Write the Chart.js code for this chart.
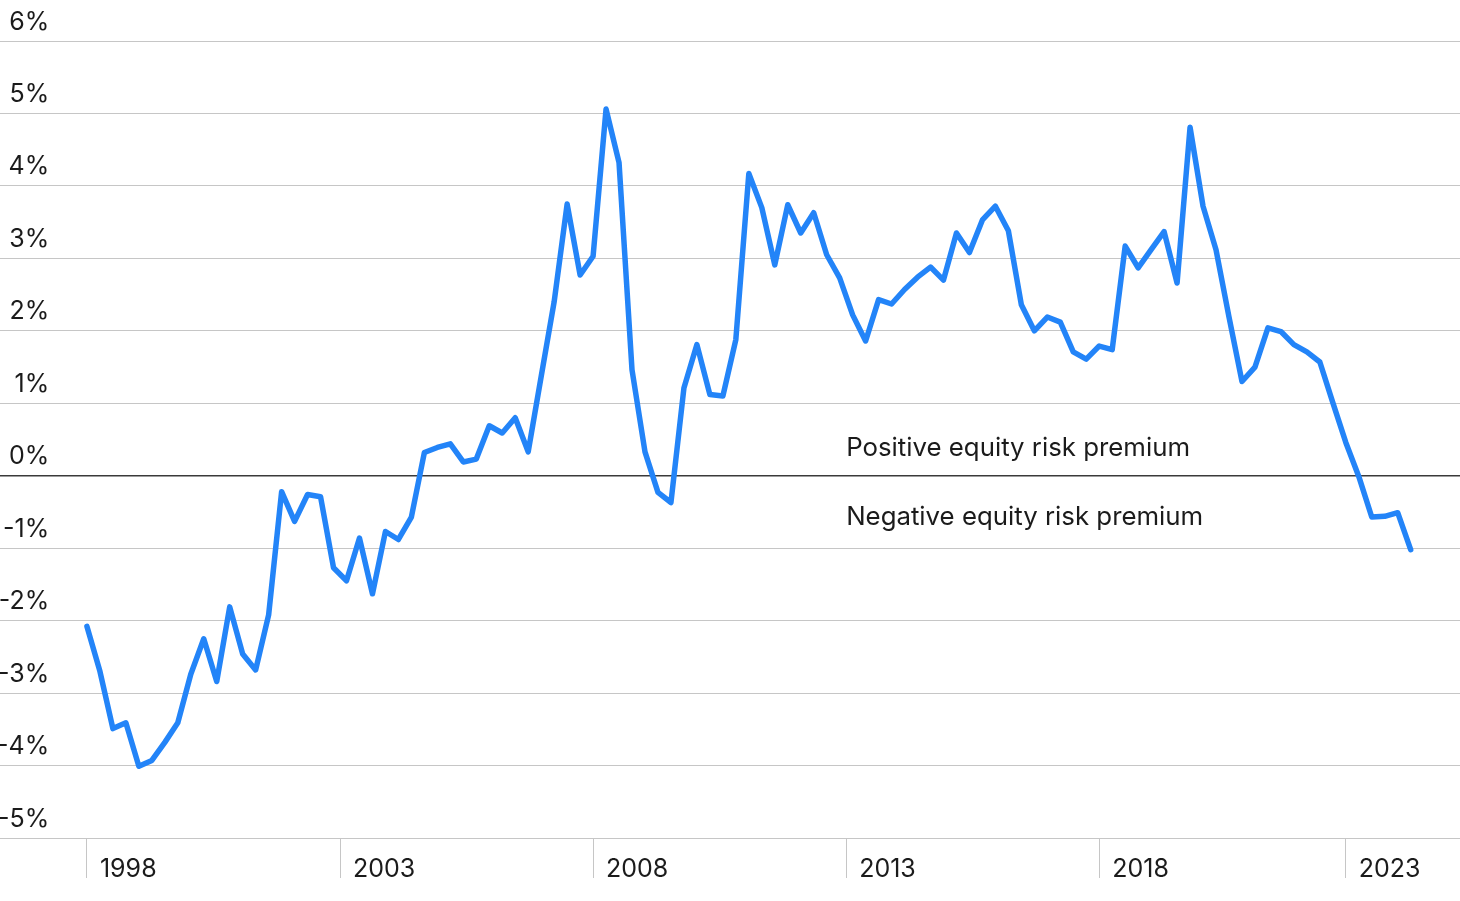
<!DOCTYPE html>
<html>
<head>
<meta charset="utf-8">
<title>Equity risk premium</title>
<script src="https://cdn.jsdelivr.net/npm/chart.js@4/dist/chart.umd.min.js"></script>
<style>
  html, body { margin: 0; padding: 0; background: #ffffff; }
  #wrap { width: 1460px; height: 901px; position: relative; }
</style>
</head>
<body>
<div id="wrap"><canvas id="erpChart"></canvas></div>
<script>
// Quarterly equity risk premium (%), 1998 Q1 .. 2023 Q3
var premium = [
  -2.08, -2.70, -3.49, -3.41, -4.01, -3.93, -3.68, -3.41, -2.74, -2.25,
  -2.84, -1.81, -2.46, -2.68, -1.92, -0.22, -0.63, -0.26, -0.29, -1.27,
  -1.45, -0.86, -1.63, -0.77, -0.88, -0.57, 0.32, 0.39, 0.44, 0.19,
  0.23, 0.69, 0.59, 0.80, 0.33, 1.37, 2.40, 3.75, 2.77, 3.03,
  5.06, 4.32, 1.46, 0.33, -0.23, -0.37, 1.21, 1.81, 1.12, 1.10,
  1.88, 4.17, 3.70, 2.91, 3.74, 3.35, 3.63, 3.05, 2.73, 2.22,
  1.86, 2.43, 2.37, 2.57, 2.74, 2.88, 2.70, 3.35, 3.08, 3.53,
  3.72, 3.38, 2.36, 2.00, 2.19, 2.12, 1.71, 1.61, 1.79, 1.74,
  3.17, 2.87, 3.12, 3.37, 2.66, 4.81, 3.72, 3.12, 2.19, 1.30,
  1.50, 2.04, 1.99, 1.81, 1.71, 1.57, 1.01, 0.46, -0.01, -0.57,
  -0.56, -0.51, -1.02
];

// year ticks on the x axis (position in quarters from 1998 Q1)
var yearLabels = ['1998', '2003', '2008', '2013', '2018', '2023'];
var yearTickAt = [0, 19.5, 39, 58.5, 78, 97];

var yTicks = [-5, -4, -3, -2, -1, 0, 1, 2, 3, 4, 5, 6];

var notes = ['Positive equity risk premium', 'Negative equity risk premium'];
var noteY = [0.38, -0.57];

var LINE = '#2384F8';
var GRID = '#c6c6c6';
var ZERO = '#3a3a3a';
var TEXT = '#1b1b1b';
var FONT = "Inter, 'Liberation Sans', sans-serif";

var noteLabels = {
  id: 'noteLabels',
  afterDatasetsDraw: function (chart) {
    var ctx = chart.ctx;
    var xs = chart.scales.x, ys = chart.scales.y;
    var x = xs.getPixelForValue(yearTickAt[3]);
    ctx.save();
    ctx.font = '400 25.8px ' + FONT;
    ctx.fillStyle = TEXT;
    ctx.textAlign = 'left';
    ctx.textBaseline = 'middle';
    notes.forEach(function (t, i) {
      ctx.fillText(t, x, ys.getPixelForValue(noteY[i]));
    });
    ctx.restore();
  }
};

new Chart(document.getElementById('erpChart'), {
  type: 'line',
  data: {
    datasets: [{
      data: premium.map(function (v, i) { return { x: i, y: v }; }),
      borderColor: LINE,
      borderWidth: 5.5,
      pointRadius: 0,
      tension: 0,
      borderJoinStyle: 'round',
      borderCapStyle: 'round'
    }]
  },
  options: {
    responsive: true,
    maintainAspectRatio: false,
    animation: false,
    layout: { padding: { top: 41, right: 0, bottom: 0, left: 0 } },
    plugins: { legend: { display: false }, tooltip: { enabled: false } },
    scales: {
      x: {
        type: 'linear',
        min: -6.7,
        max: 105.8,
        border: { display: false },
        grid: { drawOnChartArea: false, drawTicks: true, tickLength: 40, color: GRID },
        afterBuildTicks: function (axis) {
          axis.ticks = yearTickAt.map(function (v) { return { value: v }; });
        },
        afterFit: function (axis) { axis.height = 63; },
        ticks: {
          autoSkip: false,
          maxRotation: 0,
          align: 'start',
          labelOffset: 13,
          padding: -24,
          color: TEXT,
          font: { family: FONT, size: 25 },
          callback: function (v, i) { return yearLabels[i]; }
        }
      },
      y: {
        min: -5,
        max: 6,
        border: { display: false },
        afterBuildTicks: function (axis) {
          axis.ticks = yTicks.map(function (v) { return { value: v }; });
        },
        afterFit: function (axis) { axis.width = 0; },
        grid: {
          drawTicks: false,
          color: function (c) { return c.tick && c.tick.value === 0 ? ZERO : GRID; },
          lineWidth: function (c) { return c.tick && c.tick.value === 0 ? 1.5 : 1; }
        },
        ticks: {
          mirror: true,
          crossAlign: 'far',
          padding: -3,
          labelOffset: -19,
          color: TEXT,
          font: { family: FONT, size: 25 },
          callback: function (v) { return v + '%'; }
        }
      }
    }
  },
  plugins: [noteLabels]
});
</script>
</body>
</html>
